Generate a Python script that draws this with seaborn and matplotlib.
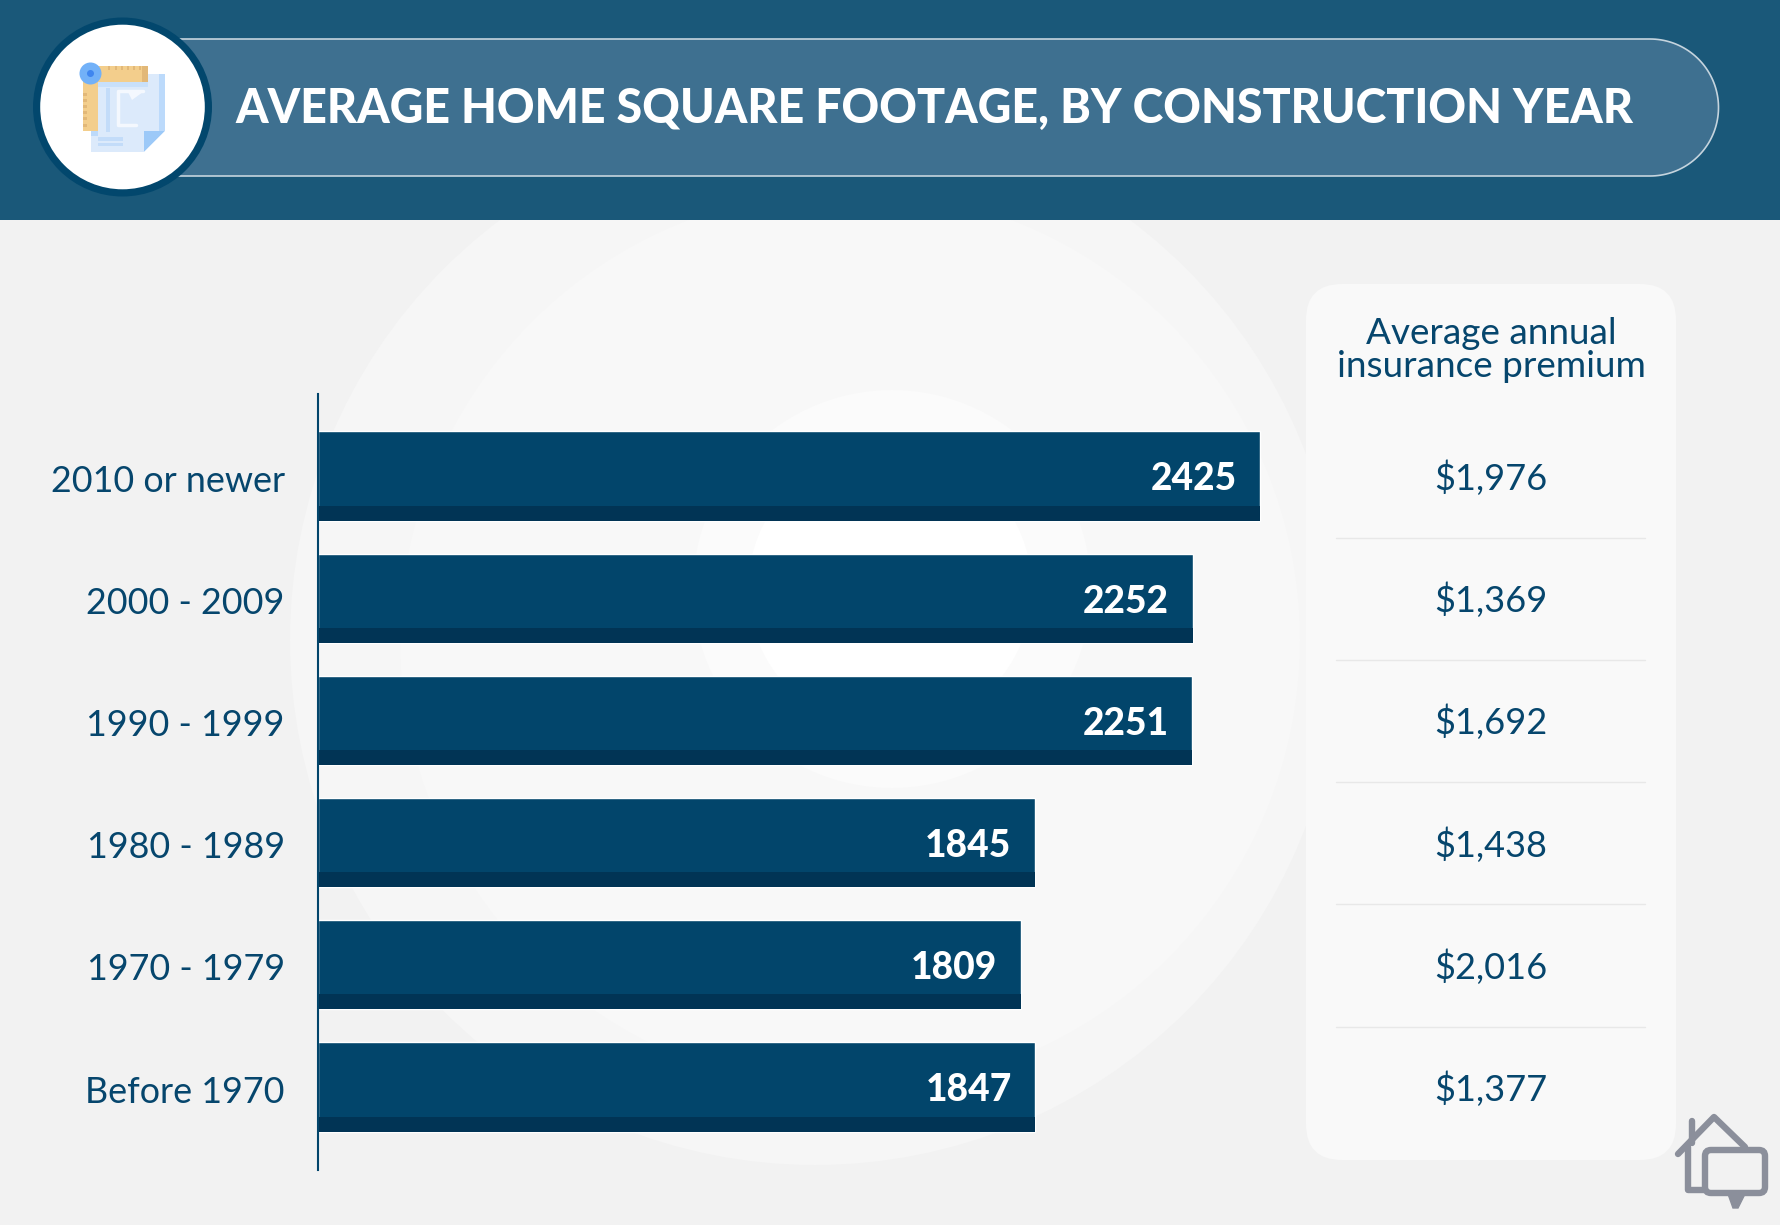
import numpy as np
import pandas as pd
import seaborn as sns
from matplotlib import pyplot as plt
from matplotlib.patches import Circle, FancyBboxPatch, Polygon, Rectangle
from matplotlib.transforms import ScaledTranslation, blended_transform_factory

periods = ['2010 or newer', '2000 - 2009', '1990 - 1999', '1980 - 1989', '1970 - 1979', 'Before 1970']
sqft = [2425, 2252, 2251, 1845, 1809, 1847]
premiums = ['$1,976', '$1,369', '$1,692', '$1,438', '$2,016', '$1,377']

title = 'AVERAGE HOME SQUARE FOOTAGE, BY CONSTRUCTION YEAR'
panel_title = ['Average annual', 'insurance premium']

NAVY = '#02456b'
DARK = '#013455'
TEXT = '#06466d'
W, H = 1781, 1225

sns.set_style('white')
plt.rcParams['font.family'] = ['Lato', 'DejaVu Sans']

fig = plt.figure(figsize=(W / 100, H / 100), dpi=100, facecolor='#f2f2f2')

# background layer in pixel coords
bg = fig.add_axes([0, 0, 1, 1])
bg.set_xlim(0, W)
bg.set_ylim(H, 0)
bg.axis('off')

bg.add_patch(Circle((815, 640), 525, fc='#f6f6f6', ec='none'))
bg.add_patch(Circle((850, 640), 450, fc='#f8f8f8', ec='none'))
bg.add_patch(Circle((892, 589), 199, fc='#fbfbfb', ec='none'))
bg.add_patch(Circle((890, 589), 142, fc='#ffffff', ec='none'))

# right panel
bg.add_patch(FancyBboxPatch((1338, 316), 306, 812, boxstyle='round,pad=32,rounding_size=36',
                            fc='#f9f9f9', ec='none'))

# header
bg.add_patch(Rectangle((0, 0), W, 220, fc='#1a5879', ec='none'))
theta = np.linspace(-np.pi / 2, np.pi / 2, 80)
pill = [(120, 176)] + [(1650 + 68.5 * np.cos(t), 107.5 - 68.5 * np.sin(t)) for t in theta] + [(120, 39)]
bg.add_patch(Polygon(pill, closed=True, fc='#3e7090', ec='#c5d4de', lw=1.2))
bg.add_patch(Circle((122.5, 107), 89.5, fc='#02476d', ec='none'))
bg.add_patch(Circle((122.5, 107), 82.3, fc='white', ec='none'))
bg.text(235, 123.5, title, color='white', fontsize=33.5, fontweight='black', ha='left', va='baseline')

# header icon
bg.add_patch(Rectangle((91, 74), 74, 78, fc='#dceafb', ec='none'))
bg.add_patch(Rectangle((159, 74), 6, 57, fc='#bcdafb', ec='none'))
bg.add_patch(Rectangle((98, 82), 50, 5, fc='#c8e0fb', ec='none'))
bg.add_patch(Rectangle((91, 131), 7, 5, fc='#bcdafb', ec='none'))
bg.add_patch(Polygon([(144, 152), (144, 131), (165, 131)], fc='#9cc9f8', ec='none'))
bg.add_patch(Polygon([(144, 152), (165, 131), (165, 152)], fc='white', ec='none'))
bg.add_patch(Rectangle((98, 137), 25, 3.5, fc='#c3dcf9', ec='none'))
bg.add_patch(Rectangle((98, 143), 25, 3, fc='#c3dcf9', ec='none'))
bg.add_patch(Rectangle((106, 88), 4, 44, fc='#c3dcf9', ec='none'))
bg.plot([143, 118.5, 118.5, 136], [91, 91, 125, 125], color='#f4f8fe', lw=2.5)
bg.add_patch(Polygon([(128, 92), (143, 92), (132, 100)], fc='#f4f8fe', ec='none'))
bg.add_patch(Rectangle((83, 66), 65, 16, fc='#f3ce8c', ec='none'))
bg.add_patch(Rectangle((83, 66), 15, 65, fc='#f3ce8c', ec='none'))
bg.add_patch(Rectangle((142, 66), 6, 16, fc='#e2b878', ec='none'))
for tx in [108, 115, 121, 127, 133, 139]:
    bg.add_patch(Rectangle((tx, 66), 2.5, 4, fc='#e2b878', ec='none'))
for ty in [93, 99, 105, 111, 117, 124]:
    bg.add_patch(Rectangle((83, ty), 4, 2.5, fc='#e2b878', ec='none'))
bg.add_patch(Circle((90.5, 73.5), 11, fc='#72b1f8', ec='none'))
bg.add_patch(Circle((90.5, 73.5), 3.5, fc='#3f86ef', ec='none'))

# logo, bottom right
LOGO = '#8b8f9b'
bg.plot([1678, 1714, 1745], [1154, 1117, 1147], color=LOGO, lw=4.6, solid_capstyle='round')
bg.plot([1692, 1692], [1121, 1143], color=LOGO, lw=4.6, solid_capstyle='round')
bg.plot([1688.5, 1688.5, 1704], [1147, 1190, 1190], color=LOGO, lw=4.6)
bg.add_patch(FancyBboxPatch((1709, 1154), 52, 35, boxstyle='round,pad=4,rounding_size=6',
                            fc='none', ec=LOGO, lw=4.6))
bg.add_patch(Polygon([(1728, 1194), (1733, 1208), (1738, 1208), (1745, 1194)],
                     fc=LOGO, ec=LOGO, lw=1))

# bars
ax = fig.add_axes([318 / W, 1 - 1170 / H, (1300 - 318) / W, (1170 - 394) / H])
ax.patch.set_alpha(0)
df = pd.DataFrame({'period': periods, 'sqft': sqft})
sns.barplot(data=df, y='period', x='sqft', color=NAVY, saturation=1, width=0.73, ax=ax)
ax.set_xlim(0, 2528)
ax.set_ylim(5.679, -0.671)
ax.set_xlabel('')
ax.set_ylabel('')
ax.set_xticks([])
ax.tick_params(axis='y', length=0, pad=24, labelsize=25.8, labelcolor=TEXT)
nudge = ScaledTranslation(0, -1.5 / 72, fig.dpi_scale_trans)
for label in ax.get_yticklabels():
    label.set_transform(label.get_transform() + nudge)
sns.despine(ax=ax, left=False, bottom=True)
ax.spines['left'].set_color(NAVY)
ax.spines['left'].set_linewidth(1.5)

strip = 15 / 122.2
for bar in list(ax.patches):
    ax.add_patch(Rectangle((0, bar.get_y() + bar.get_height() - strip), bar.get_width(), strip,
                           fc=DARK, ec='none'))

for i, value in enumerate(sqft):
    ax.annotate(str(value), (value, i), xytext=(-17, -2.5), textcoords='offset points',
                ha='right', va='center', color='white', fontsize=26.7, fontweight='black')

# premium column, lined up with the bars
row = blended_transform_factory(bg.transData, ax.transData)
for i, premium in enumerate(premiums):
    bg.text(1491, i + 0.018, premium, transform=row, color=TEXT, fontsize=26, ha='center', va='center')
    if i < len(premiums) - 1:
        bg.plot([1336, 1645], [i + 0.505, i + 0.505], transform=row, color='#e8e8e8', lw=1)

bg.text(1491, 333, panel_title[0], color=TEXT, fontsize=26.6, ha='center', va='center')
bg.text(1491, 366.6, panel_title[1], color=TEXT, fontsize=26.6, ha='center', va='center')

fig.savefig('out.png', dpi=100, facecolor=fig.get_facecolor())
